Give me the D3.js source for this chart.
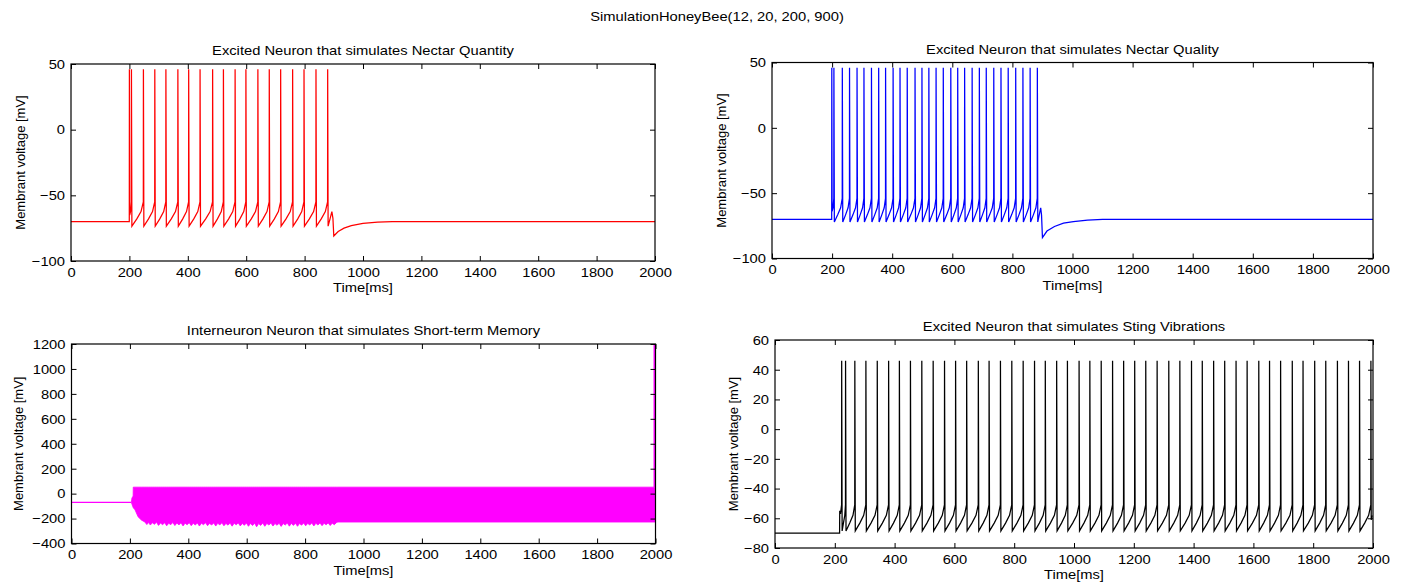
<!DOCTYPE html>
<html>
<head>
<meta charset="utf-8">
<script src="https://cdn.jsdelivr.net/npm/d3@7"></script>
<style>
  html, body { margin: 0; padding: 0; background: #fff; }
  svg { display: block; font-family: "Liberation Sans", Arial, sans-serif; }
  .tick text { font-size: 13.5px; fill: #000; }
  .tick line { stroke: #000; }
</style>
</head>
<body>
<svg id="chart" width="1405" height="582"></svg>
<script>
// ---------------- data ----------------
const figureTitle = "SimulationHoneyBee(12, 20, 200, 900)";
const panelTitles = [
  "Excited Neuron that simulates Nectar Quantity",
  "Excited Neuron that simulates Nectar Quality",
  "Interneuron Neuron that simulates Short-term Memory",
  "Excited Neuron that simulates Sting Vibrations"
];
const xLabel = "Time[ms]";
const yLabel = "Membrant voltage [mV]";
const timeTicks = [0, 200, 400, 600, 800, 1000, 1200, 1400, 1600, 1800, 2000];
const voltTicksTop = [-100, -50, 0, 50];
const voltTicksMemory = [-400, -200, 0, 200, 400, 600, 800, 1000, 1200];
const voltTicksSting = [-80, -60, -40, -20, 0, 20, 40, 60];

// spike times [ms]
const quantitySpikes = [200, 207, 248, 287, 325, 366, 403, 442, 485, 522, 562, 599, 640, 679, 718, 759, 798, 839, 879];
const qualitySpikes = [199, 206, 234, 258, 283, 306, 331, 355, 378, 403, 426, 450, 476, 499, 522, 546, 570, 595, 618, 641, 666, 690, 713, 738, 762, 786, 811, 835, 859, 883];
const stingSpikes = [223, 236, 267, 304, 342, 380, 416, 453, 491, 529, 567, 604, 641, 680, 716, 754, 792, 830, 868, 904, 942, 978, 1017, 1053, 1091, 1129, 1166, 1203, 1240, 1278, 1317, 1354, 1393, 1429, 1467, 1504, 1542, 1579, 1618, 1654, 1691, 1730, 1766, 1805, 1842, 1881, 1918, 1955, 1993];

// voltage levels [mV]: rest, post-spike trough, pre-spike knee, peak
const quantityLevels = [-70, -73.5, -55, 46];
const qualityLevels = [-70, -72, -54, 46];
const stingLevels = [-70, -68.5, -51, 46];

// stimulus onset jump (sting neuron) [t, v]
const stingOnset = [[216, -70], [216.5, -55], [219, -57]];

// after stimulus end: last value before release, then after-hyperpolarisation recovery [t, v]
const quantityRecovery = [[897, -67.5], [900, -81], [915, -77.5], [935, -75], [960, -73], [1000, -71.3], [1050, -70.4], [1100, -70], [2000, -70]];
const qualityRecovery = [[897, -67], [900, -84], [915, -79], [940, -75.5], [970, -73], [1003, -71.7], [1050, -70.6], [1100, -70], [2000, -70]];

// interneuron: rest, then dense spiking band [t, lower edge, upper edge]
const memoryRest = [[0, -70], [205, -70]];
const memoryBandStart = [[205, -70, -70], [207, -85, -35], [211, -110, -20], [211.5, -115, 52], [217, -127, 52], [228, -186, 52], [240, -213, 52]];
const memoryLowerEdge = [[251,-227],[258,-248],[264,-232],[270,-252],[277,-234],[284,-246],[291,-230],[298,-255],[305,-236],[312,-250],[319,-233],[326,-258],[333,-238],[340,-249],[347,-232],[354,-256],[361,-236],[368,-251],[375,-234],[382,-259],[389,-237],[396,-250],[403,-233],[410,-257],[417,-238],[424,-252],[431,-235],[438,-260],[445,-238],[452,-249],[459,-234],[466,-257],[473,-239],[480,-252],[487,-235],[494,-260],[501,-238],[508,-251],[515,-234],[522,-258],[529,-239],[536,-253],[543,-236],[550,-261],[557,-238],[564,-250],[571,-235],[578,-259],[585,-240],[592,-254],[599,-236],[606,-262],[613,-239],[620,-256],[627,-237],[634,-266],[641,-240],[648,-255],[655,-236],[662,-262],[669,-239],[676,-252],[683,-236],[690,-260],[697,-240],[704,-254],[711,-237],[718,-263],[725,-240],[732,-252],[739,-236],[746,-261],[753,-239],[760,-255],[767,-237],[774,-262],[781,-240],[788,-253],[795,-236],[802,-258],[809,-239],[816,-251],[823,-236],[830,-259],[837,-238],[844,-252],[851,-235],[858,-257],[865,-238],[872,-250],[879,-235],[886,-256],[893,-237],[900,-249],[907,-233],[912,-228],[2000,-228]];
const memoryBandTop = 52;
const memoryFinalSpike = [[1996, 52], [1996, 1250]];

// ---------------- drawing ----------------
const svg = d3.select("#chart");
svg.append("rect").attr("width", 1405).attr("height", 582).attr("fill", "#fff");

const WIDEN = 1.09; // the reference's horizontal text is slightly wider than Liberation Sans
function widen(sel) {
  sel.each(function () {
    const len = this.getComputedTextLength();
    d3.select(this).attr("textLength", len * WIDEN).attr("lengthAdjust", "spacingAndGlyphs");
  });
}

svg.append("text").attr("x", 717).attr("y", 21).attr("text-anchor", "middle")
  .attr("font-size", 13.5).text(figureTitle).call(widen);

// build a spiking trace from spike times and levels
function spikeTrace(spikes, levels, onset, recovery, tEnd) {
  const [rest, trough, knee, peak] = levels;
  const pts = [[0, rest]];
  if (onset) onset.forEach(p => pts.push(p));
  else pts.push([spikes[0] - 0.4, rest]);
  spikes.forEach((t, i) => {
    pts.push([t - 0.3, knee]);
    pts.push([t, peak]);
    const next = spikes[i + 1];
    const T = next !== undefined ? next - t : (recovery ? recovery[0][0] - t : tEnd - t);
    if (T < 12) {
      pts.push([t + 1, knee - 10]);
      pts.push([t + T * 0.6, knee - 7]);
    } else {
      pts.push([t + 1.5, trough]);
      pts.push([t + T * 0.45, trough + (knee - trough) * 0.3]);
      pts.push([t + T * 0.8, trough + (knee - trough) * 0.6]);
      if (next === undefined && !recovery) pts.push([tEnd, trough + (knee - trough) * 0.8]);
    }
  });
  if (recovery) recovery.forEach(p => pts.push(p));
  return pts;
}

const panels = [
  { box: [71, 64, 655, 261], yDomain: [-100, 50], yTicks: voltTicksTop, color: "#ff0000", ylx: 20,
    trace: spikeTrace(quantitySpikes, quantityLevels, null, quantityRecovery, 2000) },
  { box: [772, 62.5, 1373, 258.5], yDomain: [-100, 50], yTicks: voltTicksTop, color: "#0000ff", ylx: 721,
    trace: spikeTrace(qualitySpikes, qualityLevels, null, qualityRecovery, 2000) },
  { box: [71.5, 344, 655.5, 543.5], yDomain: [-400, 1200], yTicks: voltTicksMemory, color: "#ff00ff", ylx: 18.5,
    memory: true },
  { box: [775, 340, 1373, 548], yDomain: [-80, 60], yTicks: voltTicksSting, color: "#000000", ylx: 733,
    trace: spikeTrace(stingSpikes, stingLevels, stingOnset, null, 2000) }
];

const fmt = d3.format("d");

panels.forEach((p, i) => {
  const [x0, y0, x1, y1] = p.box;
  const x = d3.scaleLinear().domain([0, 2000]).range([x0, x1]);
  const y = d3.scaleLinear().domain(p.yDomain).range([y1, y0]);
  const g = svg.append("g");
  const clipId = "clip" + i;
  svg.append("clipPath").attr("id", clipId).append("rect")
    .attr("x", x0).attr("y", y0).attr("width", x1 - x0).attr("height", y1 - y0);

  const plot = g.append("g").attr("clip-path", `url(#${clipId})`);
  const line = d3.line().x(d => x(d[0])).y(d => y(d[1]));

  if (p.memory) {
    plot.append("path").datum(memoryRest).attr("d", line)
      .attr("fill", "none").attr("stroke", p.color).attr("stroke-width", 1.2);
    const band = memoryBandStart.concat(memoryLowerEdge.map(d => [d[0], d[1], memoryBandTop]));
    const area = d3.area().x(d => x(d[0])).y0(d => y(d[1])).y1(d => y(d[2]));
    plot.append("path").datum(band).attr("d", area)
      .attr("fill", p.color).attr("stroke", p.color).attr("stroke-width", 0.8);
    plot.append("path").datum(memoryFinalSpike).attr("d", line)
      .attr("fill", "none").attr("stroke", p.color).attr("stroke-width", 1.6);
  } else {
    plot.append("path").datum(p.trace).attr("d", line)
      .attr("fill", "none").attr("stroke", p.color).attr("stroke-width", 1.25)
      .attr("stroke-linejoin", "miter");
  }

  // axes: ticks inside on all four sides
  const ax = g.append("g").attr("transform", `translate(0,${y1})`)
    .call(d3.axisBottom(x).tickValues(timeTicks).tickFormat(fmt).tickSizeInner(-5).tickSizeOuter(0).tickPadding(6));
  ax.select(".domain").remove();
  ax.selectAll("text").attr("y", 6).call(widen);
  const axT = g.append("g").attr("transform", `translate(0,${y0})`)
    .call(d3.axisTop(x).tickValues(timeTicks).tickSizeInner(-5).tickSizeOuter(0).tickFormat(""));
  axT.select(".domain").remove();
  const ay = g.append("g").attr("transform", `translate(${x0},0)`)
    .call(d3.axisLeft(y).tickValues(p.yTicks).tickFormat(fmt).tickSizeInner(-5).tickSizeOuter(0).tickPadding(6));
  ay.select(".domain").remove();
  ay.selectAll("text").call(widen);
  const ayR = g.append("g").attr("transform", `translate(${x1},0)`)
    .call(d3.axisRight(y).tickValues(p.yTicks).tickSizeInner(-5).tickSizeOuter(0).tickFormat(""));
  ayR.select(".domain").remove();

  g.append("rect").attr("x", x0).attr("y", y0).attr("width", x1 - x0).attr("height", y1 - y0)
    .attr("fill", "none").attr("stroke", "#000").attr("stroke-width", 1.2);

  // labels
  g.append("text").attr("x", (x0 + x1) / 2).attr("y", y0 - 9).attr("text-anchor", "middle")
    .attr("font-size", 13.5).text(panelTitles[i]).call(widen);
  g.append("text").attr("x", (x0 + x1) / 2).attr("y", y1 + 31).attr("text-anchor", "middle")
    .attr("font-size", 13.5).text(xLabel).call(widen);
  g.append("text").attr("transform", `translate(${p.ylx},${(y0 + y1) / 2}) rotate(-90)`)
    .attr("text-anchor", "middle").attr("dy", "0.35em").attr("font-size", 13).text(yLabel);
});
</script>
</body>
</html>
